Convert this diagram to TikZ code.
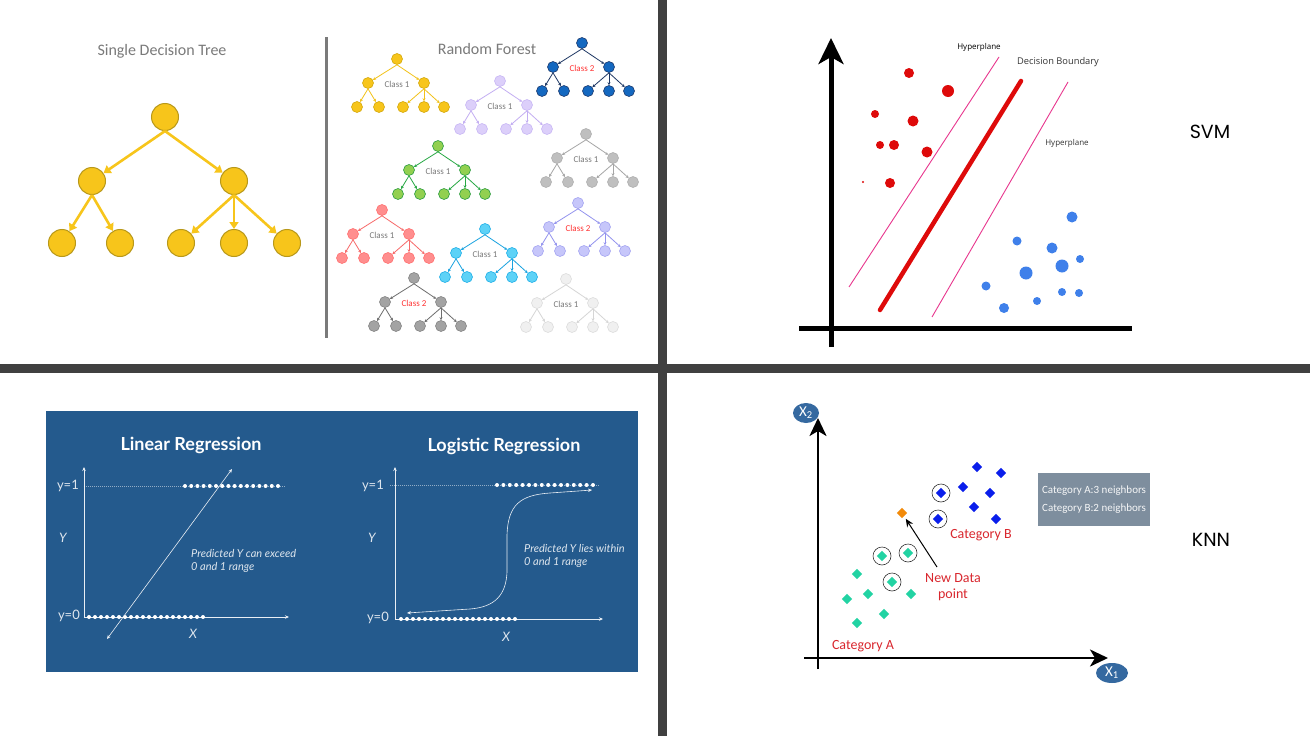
\documentclass[tikz,border=0pt]{standalone}
\usepackage{fontspec}
\setmainfont{Carlito}
\newfontfamily\latofont{Lato}
\newfontfamily\opensans{Open Sans}
\newfontfamily\popfont{Poppins}
\usetikzlibrary{arrows.meta,shapes.geometric}

\definecolor{divgray}{HTML}{404040}
\definecolor{titlegray}{HTML}{7A7A7A}
\definecolor{classred}{HTML}{FF3333}
\definecolor{treeyellow}{HTML}{F7C51B}
\definecolor{treeborder}{HTML}{B8981A}
\definecolor{regblue}{HTML}{245A8D}
\definecolor{svmpink}{HTML}{E8378E}
\definecolor{svmred}{HTML}{DE0A0A}
\definecolor{svmblue}{HTML}{3F80EA}
\definecolor{knngreen}{HTML}{22D3A3}
\definecolor{knnblue}{HTML}{0A1EEB}
\definecolor{knnorange}{HTML}{F28A0A}
\definecolor{knnred}{HTML}{D9272E}
\definecolor{knnbox}{HTML}{7E8E9E}
\definecolor{knnoval}{HTML}{3569A0}

\tikzset{
  bignode/.style={circle, minimum size=27pt, inner sep=0pt, fill=treeyellow, draw=treeborder, line width=1pt},
  bigarrow/.style={treeyellow, line width=2.6pt, -{Triangle[length=7pt,width=9pt]}},
  mini/.style={circle, minimum size=11pt, inner sep=0pt, line width=0.6pt},
  miniarrow/.style={line width=0.8pt, -{Stealth[length=3pt,width=3pt]}},
  minilabel/.style={font=\fontsize{9}{10}\selectfont},
  paneltitle/.style={font=\fontsize{16}{18}\selectfont, text=titlegray},
  bigname/.style={font=\popfont\fontsize{19}{22}\selectfont},
  regtitle/.style={font=\latofont\bfseries\fontsize{18}{20}\selectfont, text=white},
  reglabel/.style={font=\latofont\fontsize{13}{15}\selectfont, text=white!85!regblue, inner sep=1pt},
  regletter/.style={font=\latofont\itshape\fontsize{13}{15}\selectfont, text=white!85!regblue, inner sep=1pt},
  regnote/.style={font=\latofont\itshape\fontsize{11}{12.5}\selectfont, text=white!85!regblue, align=left, anchor=west, inner sep=0pt},
  regaxis/.style={white!90!regblue, line width=0.6pt},
  regtip/.style={-{Stealth[length=4pt,width=3.5pt]}},
  regdots/.style={white, opacity=0.5, line width=0.5pt, dash pattern=on 1pt off 1pt},
  gem/.style={diamond, minimum size=10.5pt, inner sep=0pt},
  ring/.style={circle, draw=black!80, line width=0.6pt, minimum size=18pt, inner sep=0pt},
  oval/.style={ellipse, fill=knnoval, minimum height=20pt, inner sep=0pt, text=white, font=\fontsize{15}{16}\selectfont},
  redtext/.style={text=knnred, font=\fontsize{14}{15.5}\selectfont}
}

\newcommand{\minitree}[7]{%
  \definecolor{#1f}{HTML}{#3}\definecolor{#1d}{HTML}{#4}\definecolor{#1e}{HTML}{#5}%
  \begin{scope}[shift={(#2)}]
    \node[mini, fill=#1f, draw=#1d] (#1) at (0,0) {};
    \node[mini, fill=#1f, draw=#1d] (#1L) at (-29,24) {};
    \node[mini, fill=#1f, draw=#1d] (#1R) at (27,24) {};
    \foreach \dx [count=\k] in {-40,-18,6,27,47}
      \node[mini, fill=#1f, draw=#1d] (#1\k) at (\dx,48) {};
    \node[minilabel, text=#7] (#1txt) at (0,25) {#6};
  \end{scope}
  \draw[miniarrow, #1e] (#1.south) -- (#1L);
  \draw[miniarrow, #1e] (#1.south) -- (#1R);
  \foreach \k in {1,2} \draw[miniarrow, #1e] (#1L.south) -- (#1\k);
  \foreach \k in {3,4,5} \draw[miniarrow, #1e] (#1R.south) -- (#1\k);
}

\begin{document}
\begin{tikzpicture}[x=1pt, y=-1pt]
    \fill[white] (0,0) rectangle (1310,736);
    \useasboundingbox (0,0) rectangle (1310,736);
    \fill[divgray] (658,0) rectangle (667,736);
    \fill[divgray] (0,364) rectangle (1310,373);

    \node[paneltitle] (single) at (162,51) {Single Decision Tree};
    \node[bignode] (root) at (165,117) {};
    \node[bignode] (left) at (92,181) {};
    \node[bignode] (right) at (234,181) {};
    \foreach \x [count=\i] in {62,120,181,234,287}
        \node[bignode] (leaf\i) at (\x,243) {};
    \draw[bigarrow] (root.south) -- (left);
    \draw[bigarrow] (root.south) -- (right);
    \foreach \i in {1,2} \draw[bigarrow] (left.south) -- (leaf\i);
    \foreach \i in {3,4,5} \draw[bigarrow] (right.south) -- (leaf\i);

    \draw[titlegray, line width=3pt] (326,37) -- (326,338);
    \node[paneltitle] (forest) at (487,49) {Random Forest};
    \minitree{yel}{397,59}{F7C51B}{D4A90F}{F2C21A}{Class 1}{titlegray}
    \minitree{nav}{582,43}{1468C0}{1F3C70}{1F3864}{Class 2}{classred}
    \minitree{lav}{500,81}{DCCFFA}{C9B8F5}{C3AEF2}{Class 1}{titlegray}
    \minitree{gry}{586,134}{BFBFBF}{B0B0B0}{A6A6A6}{Class 1}{titlegray}
    \minitree{grn}{438,146}{92D050}{2E9E44}{27A844}{Class 1}{titlegray}
    \minitree{pnk}{382,210}{FF8E8E}{FF7272}{F76A6A}{Class 1}{titlegray}
    \minitree{cyn}{485,229}{5DD2F7}{22B0E8}{1AA3E0}{Class 1}{titlegray}
    \minitree{prp}{578,203}{C6C6FA}{A5A5F2}{9393EE}{Class 2}{classred}
    \minitree{dgr}{414,278}{A3A3A3}{858585}{6E6E6E}{Class 2}{classred}
    \minitree{lgr}{566,279}{F0F0F0}{DDDDDD}{D6D6D6}{Class 1}{titlegray}

    \draw[line width=5pt, -{Stealth[length=26pt,width=25pt,inset=7pt]}] (831,347) -- (831,38);
    \draw[line width=5pt] (799,328) -- (1132,328);
    \draw[svmpink, line width=0.9pt] (849,287) -- (999,57);
    \draw[svmpink, line width=0.9pt] (932,317) -- (1068,82);
    \draw[svmred, line width=4.5pt, line cap=round] (880,310) -- (1021,81);
    \foreach \x/\y/\r in {909/73/5, 948/91/6, 875/114/4, 913/121/5.5, 880/145/4,
        894/145/5, 927/152/5.5, 890/183/5, 863/182/1.2}
        \fill[svmred] (\x,\y) circle (\r pt);
    \foreach \x/\y/\r in {1072/217/5.5, 1017/241/4.5, 1052/248/5.5, 1080/259/4, 1062/266/6.5,
        1026/273/6.5, 986/286/4.5, 1062/292/4, 1079/293/4, 1037/301/4, 1004/308/5}
        \fill[svmblue] (\x,\y) circle (\r pt);
    \node[font=\opensans\fontsize{8}{9}\selectfont] (hyp1) at (979,47) {Hyperplane};
    \node[font=\opensans\fontsize{9.3}{10}\selectfont, text=black!80] (boundary) at (1058,62) {Decision Boundary};
    \node[font=\opensans\fontsize{8}{9}\selectfont, text=black!80] (hyp2) at (1067,143) {Hyperplane};
    \node[bigname] (svm) at (1210,132) {SVM};

    \fill[regblue] (46,411) rectangle (638,672);
    \node[regtitle] (lintitle) at (191,445) {Linear Regression};
    \draw[regaxis, regtip] (84,617) -- (84,467);
    \draw[regaxis, regtip] (84,617) -- (289,617);
    \draw[regdots] (84,486) -- (285,486);
    \foreach \i in {0,...,15} \fill[white] ({185+\i*6.2},486) circle (2pt);
    \foreach \i in {0,...,19} \fill[white] ({89+\i*6},617) circle (2pt);
    \draw[regaxis, {Stealth[length=4pt,width=3.5pt]}-{Stealth[length=4pt,width=3.5pt]}] (107,639) -- (232,469);
    \node[reglabel, anchor=east] (lin1) at (80,486) {y=1};
    \node[reglabel, anchor=east] (lin0) at (81,616) {y=0};
    \node[regletter] (linY) at (63,538) {Y};
    \node[regletter] (linX) at (193,634) {X};
    \node[regnote] (linnote) at (191,561) {Predicted Y can exceed\\0 and 1 range};

    \node[regtitle] (logtitle) at (504,446) {Logistic Regression};
    \draw[regaxis, regtip] (395,619) -- (395,467);
    \draw[regaxis, regtip] (395,619) -- (603,619);
    \draw[regdots] (390,485) -- (600,485);
    \foreach \i in {0,...,15} \fill[white] ({497+\i*6.4},485) circle (2pt);
    \foreach \i in {0,...,19} \fill[white] ({401+\i*6},619) circle (2pt);
    \draw[regaxis, {Stealth[length=4pt,width=3.5pt]}-{Stealth[length=4pt,width=3.5pt]}]
        (407,613) -- (470,609) .. controls (495,607) and (506,595) .. (507,572) -- (507,535)
        .. controls (508,505) and (520,495) .. (550,493) -- (592,490);
    \node[reglabel, anchor=east] (log1) at (385,486) {y=1};
    \node[reglabel, anchor=east] (log0) at (390,618) {y=0};
    \node[regletter] (logY) at (372,538) {Y};
    \node[regletter] (logX) at (506,637) {X};
    \node[regnote] (lognote) at (524,556) {Predicted Y lies within\\0 and 1 range};

    \draw[line width=2.5pt, -{Stealth[length=18pt,width=17pt,inset=5pt]}] (818,669) -- (818,418);
    \draw[line width=2.5pt, -{Stealth[length=18pt,width=17pt,inset=5pt]}] (804,658) -- (1108,658);
    \node[oval, minimum width=26pt] (xtwo) at (806,413) {X\textsubscript{2}};
    \node[oval, minimum width=32pt] (xone) at (1112,673) {X\textsubscript{1}};
    \foreach \x/\y [count=\i] in {857/574, 847/599, 868/594, 857/623, 884/614, 911/594, 882/556, 908/553, 892/582}
        \node[gem, fill=knngreen] (a\i) at (\x,\y) {};
    \foreach \x/\y [count=\i] in {977/467, 1001/473, 963/487, 990/493, 974/507, 996/519, 941/493, 938/519}
        \node[gem, fill=knnblue] (b\i) at (\x,\y) {};
    \foreach \n in {a7,a8,a9,b7,b8}
        \node[ring] (ring\n) at (\n) {};
    \node[gem, fill=knnorange] (newpt) at (902,513) {};
    \node[redtext, align=center, inner sep=0pt] (newlbl) at (953,587) {New Data\\point};
    \coordinate (newtail) at (937,567);
    \draw[line width=1pt, -{Stealth[length=8pt,width=7pt]}, shorten >=3pt] (newtail) -- (newpt);
    \node[redtext] (catb) at (981,535) {Category B};
    \node[redtext] (cata) at (863,646) {Category A};
    \node[fill=knnbox, text=white!92!knnbox, minimum width=112pt, minimum height=53pt, align=center,
        font=\fontsize{11}{18}\selectfont] (nbrbox) at (1094,499.5) {Category A:3 neighbors\\Category B:2 neighbors};
    \node[bigname] (knn) at (1211,540) {KNN};
\end{tikzpicture}
\end{document}
